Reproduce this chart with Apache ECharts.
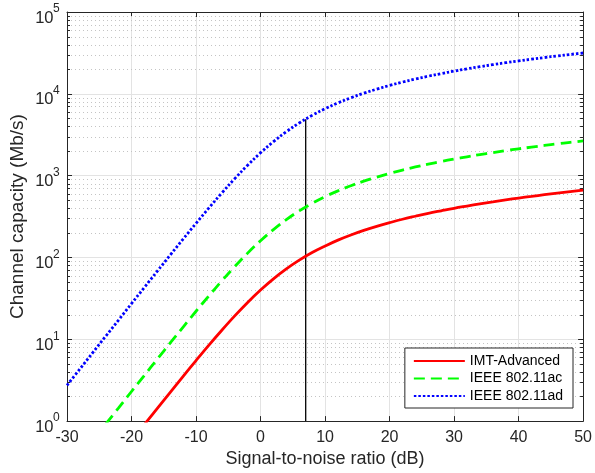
<!DOCTYPE html>
<html>
<head>
<meta charset="utf-8">
<script src="https://cdn.jsdelivr.net/npm/echarts@6/dist/echarts.min.js"></script>
<style>html,body{margin:0;padding:0;background:#fff}#c{width:595px;height:473px}</style>
</head>
<body>
<div id="c"></div>
<script>
var snr = [-30,-28,-26,-24,-22,-20,-18,-16,-14,-12,-10,-8,-6,-4,-2,0,2,4,6,8,10,12,14,16,18,20,22,24,26,28,30,32,34,36,38,40,42,44,46,48,50];
var imtAdvanced = [null,null,null,null,null,null,0.91,1.43,2.25,3.53,5.5,8.49,12.9,19.3,28.2,40,54.8,72.5,92.7,115,138,163,188,214,240,266,293,319,346,372,399,425,452,478,505,532,558,585,611,638,664];
var ieee80211ac = [null,null,null,0.92,1.45,2.3,3.63,5.73,9.01,14.1,22,34,51.7,77.4,113,160,219,290,371,459,554,652,753,856,960,1065,1171,1277,1383,1489,1595,1701,1807,1913,2020,2126,2232,2339,2445,2551,2658];
var ieee80211ad = [2.74,4.34,6.88,10.9,17.2,27.3,43.1,68,107,168,261,403,614,919,1341,1900,2603,3443,4401,5453,6573,7742,8943,10167,11404,12651,13903,15159,16417,17677,18938,20199,21461,22723,23985,25247,26509,27770,29034,30296,31558];
var seriesNames = ['IMT-Advanced','IEEE 802.11ac','IEEE 802.11ad'];
var markerSnr = 7;
var markerTop = 4900;
var xTicks = [-30,-20,-10,0,10,20,30,40,50];
var yExponents = [0,1,2,3,4,5];
var minorValues = [];
for (var e = 0; e < 5; e++) { for (var m = 2; m <= 9; m++) { minorValues.push(m * Math.pow(10, e)); } }

function pairs(xs, ys) { return xs.map(function (x, i) { return [x, ys[i]]; }); }

var FONT = 'Liberation Sans, Arial, Helvetica, sans-serif';
var TXT = '#262626';
var AX = '#262626';

var chart = echarts.init(document.getElementById('c'), null, {renderer: 'canvas'});
var option = {
  animation: false,
  backgroundColor: '#fff',
  textStyle: {fontFamily: FONT, color: TXT},
  grid: {left: 66, right: 8, top: 12, bottom: 50, containLabel: false},
  legend: {
    data: seriesNames,
    orient: 'vertical',
    right: 22,
    bottom: 65,
    align: 'left',
    itemWidth: 51,
    itemHeight: 14,
    itemGap: 3.5,
    padding: [6, 10, 5, 8],
    backgroundColor: '#fff',
    borderColor: '#262626',
    borderWidth: 1,
    borderRadius: 0,
    itemStyle: {opacity: 0},
    textStyle: {fontFamily: FONT, fontSize: 14, color: '#000'}
  },
  xAxis: [{
    type: 'value', min: xTicks[0], max: xTicks[xTicks.length - 1], interval: 10,
    name: 'Signal-to-noise ratio (dB)', nameLocation: 'middle', nameGap: 28,
    nameTextStyle: {fontFamily: FONT, fontSize: 18, color: TXT},
    axisLine: {show: true, onZero: false, lineStyle: {color: AX, width: 1}},
    axisTick: {show: true, inside: true, length: 5, lineStyle: {color: AX}},
    axisLabel: {fontFamily: FONT, fontSize: 16, color: TXT, margin: 8},
    splitLine: {show: true, lineStyle: {color: '#e3e3e3', width: 1}}
  }, {
    type: 'value', position: 'top', min: xTicks[0], max: xTicks[xTicks.length - 1], interval: 10,
    axisLine: {show: true, onZero: false, lineStyle: {color: AX, width: 1}},
    axisTick: {show: true, inside: true, length: 5, lineStyle: {color: AX}},
    axisLabel: {show: false}, splitLine: {show: false}
  }],
  yAxis: [{
    type: 'log', logBase: 10, min: 1, max: 100000,
    name: 'Channel capacity (Mb/s)', nameLocation: 'middle', nameGap: 40,
    nameTextStyle: {fontFamily: FONT, fontSize: 19, color: TXT},
    axisLine: {show: true, onZero: false, lineStyle: {color: AX, width: 1}},
    axisTick: {show: true, inside: true, length: 5, lineStyle: {color: AX}},
    axisLabel: {show: false},
    splitLine: {show: true, lineStyle: {color: '#e3e3e3', width: 1}}
  }, {
    type: 'log', logBase: 10, min: 1, max: 100000, position: 'right',
    axisLine: {show: true, onZero: false, lineStyle: {color: AX, width: 1}},
    axisTick: {show: true, inside: true, length: 5, lineStyle: {color: AX}},
    axisLabel: {show: false}, splitLine: {show: false}
  }],
  series: [{
    type: 'custom', name: 'minor', silent: true, z: 1,
    xAxisIndex: 0, yAxisIndex: 0,
    data: minorValues.map(function (v) { return [0, v]; }),
    renderItem: function (params, api) {
      var cs = params.coordSys;
      var y = Math.round(api.coord([0, api.value(1)])[1]) + 0.5;
      return {
        type: 'group',
        children: [
          {type: 'line', shape: {x1: cs.x, y1: y, x2: cs.x + cs.width, y2: y},
           style: {stroke: '#c4c4c4', lineWidth: 1, lineDash: [1, 3]}},
          {type: 'line', shape: {x1: cs.x, y1: y, x2: cs.x + 3, y2: y},
           style: {stroke: AX, lineWidth: 1}},
          {type: 'line', shape: {x1: cs.x + cs.width - 3, y1: y, x2: cs.x + cs.width, y2: y},
           style: {stroke: AX, lineWidth: 1}}
        ]
      };
    }
  }, {
    type: 'custom', name: 'ylabels', silent: true, z: 10, clip: false,
    xAxisIndex: 0, yAxisIndex: 0,
    data: yExponents.map(function (ex) { return [0, Math.pow(10, ex), ex]; }),
    renderItem: function (params, api) {
      var cs = params.coordSys;
      var y = api.coord([0, api.value(1)])[1];
      var ex = String(api.value(2));
      return {
        type: 'group',
        children: [
          {type: 'text', style: {text: '10', x: cs.x - 13.5, y: y - 2.5, align: 'right', verticalAlign: 'top',
            fontFamily: FONT, fontSize: 16.5, fill: TXT}},
          {type: 'text', style: {text: ex, x: cs.x - 14, y: y - 9, align: 'left', verticalAlign: 'top',
            fontFamily: FONT, fontSize: 12, fill: TXT}}
        ]
      };
    }
  }, {
    type: 'line', name: 'marker', silent: true, z: 3,
    data: [[markerSnr, 1], [markerSnr, markerTop]],
    symbol: 'none', lineStyle: {color: '#000', width: 1.3}
  }, {
    type: 'line', name: seriesNames[0], z: 5,
    data: pairs(snr, imtAdvanced), smooth: 0.4, symbol: 'none', connectNulls: false,
    color: '#ff0000', lineStyle: {color: '#ff0000', width: 2.8}
  }, {
    type: 'line', name: seriesNames[1], z: 5,
    data: pairs(snr, ieee80211ac), smooth: 0.4, symbol: 'none',
    color: '#00ff00', lineStyle: {color: '#00ff00', width: 2.8, type: [11, 6]}
  }, {
    type: 'line', name: seriesNames[2], z: 5,
    data: pairs(snr, ieee80211ad), smooth: 0.4, symbol: 'none',
    color: '#0000ff', lineStyle: {color: '#0000ff', width: 2.8, type: [2.5, 2]}
  }]
};
chart.setOption(option);
</script>
</body>
</html>
